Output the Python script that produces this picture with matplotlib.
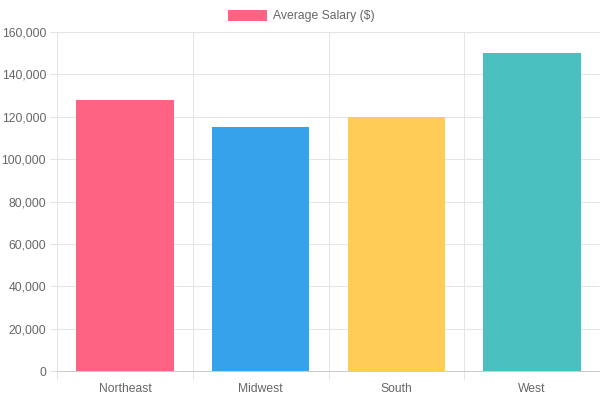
import numpy as np
import matplotlib.pyplot as plt
from matplotlib.patches import Rectangle
from matplotlib.ticker import FuncFormatter, MultipleLocator, FixedLocator

plt.rcParams['font.family'] = ['Liberation Sans', 'DejaVu Sans']

regions = ['Northeast', 'Midwest', 'South', 'West']
salaries = [128000, 115000, 120000, 150000]
colors = ['#ff6384', '#36a2eb', '#ffcd56', '#4bc0c0']
label = 'Average Salary ($)'

grid_c = '#e5e5e5'
text_c = '#666666'
px = 72 / 100  # one pixel in points

fig = plt.figure(figsize=(6, 4), dpi=100)
ax = fig.add_axes([57/600, 29/400, 543/600, 339/400])

x = np.arange(len(regions))
ax.bar(x, salaries, width=0.72, color=colors, zorder=3)

ax.set_xlim(-0.5, len(regions) - 0.5)
ax.set_ylim(0, 160000)
ax.yaxis.set_major_locator(MultipleLocator(20000))
ax.yaxis.set_major_formatter(FuncFormatter(lambda v, p: f'{int(v):,}'))
ax.set_xticks(x)
ax.set_xticklabels(regions)
ax.xaxis.set_minor_locator(FixedLocator(np.arange(-0.5, len(regions), 1.0)))

ax.grid(axis='y', which='major', color=grid_c, linewidth=px, zorder=0)
ax.grid(axis='x', which='minor', color=grid_c, linewidth=px, zorder=0)
ax.tick_params(axis='x', which='major', length=0, pad=12*px, labelsize=8.7, labelcolor=text_c)
ax.tick_params(axis='x', which='minor', length=9*px, color=grid_c, width=px)
ax.tick_params(axis='y', length=7*px, color=grid_c, width=px, pad=4*px, labelsize=8.7, labelcolor=text_c)

for s in ['top', 'right']:
    ax.spines[s].set_visible(False)
ax.spines['left'].set_color(grid_c)
ax.spines['left'].set_linewidth(px)
ax.spines['bottom'].set_color('#cccccc')
ax.spines['bottom'].set_linewidth(px)

# legend
fig.patches.append(Rectangle((228/600, 1 - 21/400), 39/600, 11/400,
                             transform=fig.transFigure, facecolor=colors[0],
                             edgecolor='none'))
fig.text(273/600, 1 - 16/400, label, fontsize=8.7, color=text_c, va='center', ha='left')

fig.savefig('out.png', dpi=100)
